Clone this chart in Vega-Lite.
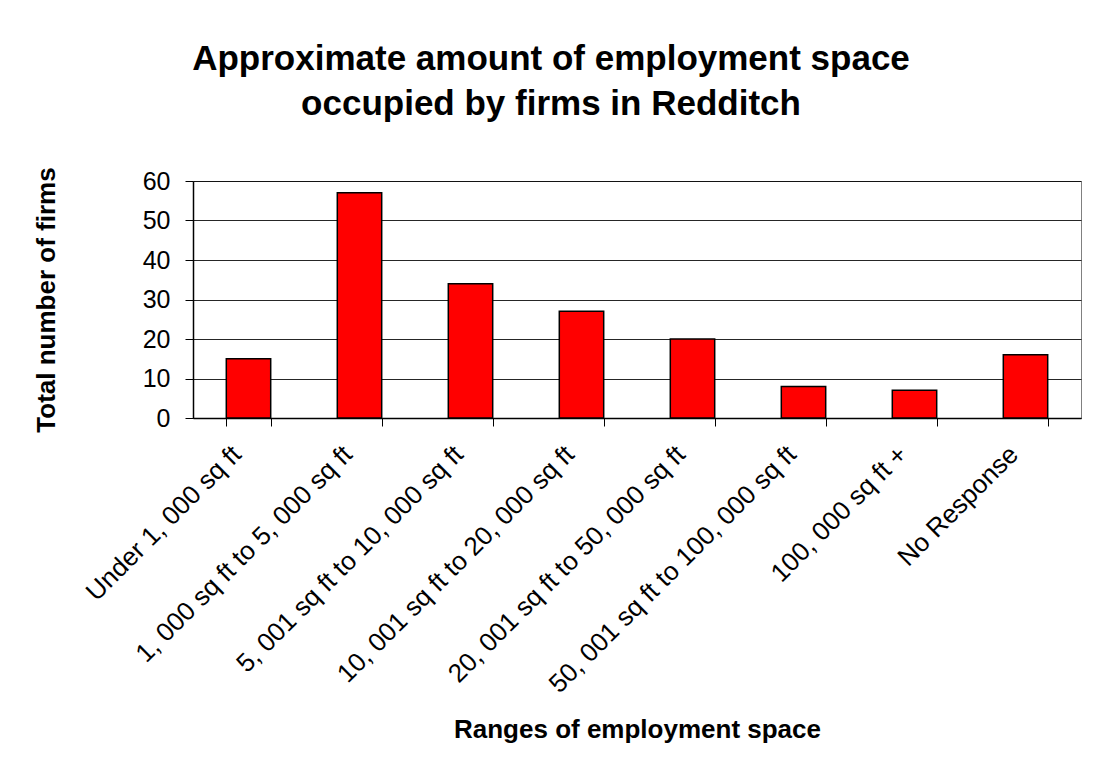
{
  "$schema": "https://vega.github.io/schema/vega-lite/v6.json",
  "width": 888,
  "height": 237,
  "autosize": {"type": "none"},
  "padding": {"left": 193, "top": 181, "right": 17, "bottom": 349},
  "background": "white",
  "title": {
    "text": ["Approximate amount of employment space", "occupied by firms in Redditch"],
    "font": "Liberation Sans",
    "fontSize": 35,
    "fontWeight": "bold",
    "color": "black",
    "anchor": "middle",
    "frame": "group",
    "dx": -86,
    "lineHeight": 45,
    "offset": 45
  },
  "data": {
    "values": [
      {"range": "Under 1, 000 sq ft", "firms": 15},
      {"range": "1, 000 sq ft to 5, 000 sq ft", "firms": 57},
      {"range": "5, 001 sq ft to 10, 000 sq ft", "firms": 34},
      {"range": "10, 001 sq ft to 20, 000 sq ft", "firms": 27},
      {"range": "20, 001 sq ft to 50, 000 sq ft", "firms": 20},
      {"range": "50, 001 sq ft to 100, 000 sq ft", "firms": 8},
      {"range": "100, 000 sq ft +", "firms": 7},
      {"range": "No Response", "firms": 16}
    ]
  },
  "mark": {"type": "bar", "color": "#FF0000", "stroke": "black", "strokeWidth": 1.5},
  "encoding": {
    "x": {
      "field": "range",
      "type": "nominal",
      "sort": null,
      "scale": {"paddingInner": 0.6, "paddingOuter": 0.3},
      "axis": {
        "title": "Ranges of employment space",
        "labelAngle": -45,
        "labelAlign": "right",
        "labelBaseline": "middle",
        "labelFontSize": 26,
        "labelPadding": 24,
        "labelOffset": -12,
        "labelLimit": 0,
        "tickBand": "extent",
        "titleY": 319,
        "titleBaseline": "alphabetic"
      }
    },
    "y": {
      "field": "firms",
      "type": "quantitative",
      "scale": {"domain": [0, 60], "nice": false},
      "axis": {
        "title": "Total number of firms",
        "values": [0, 10, 20, 30, 40, 50, 60],
        "labelFontSize": 25,
        "labelPadding": 15,
        "titlePadding": 83,
        "grid": true
      }
    }
  },
  "config": {
    "font": "Liberation Sans",
    "view": {"stroke": "#808080", "strokeWidth": 1},
    "axis": {
      "domainColor": "black",
      "domainWidth": 1.5,
      "tickColor": "black",
      "tickWidth": 1,
      "tickSize": 8,
      "labelColor": "black",
      "labelFont": "Liberation Sans",
      "titleFont": "Liberation Sans",
      "titleFontSize": 26,
      "titleFontWeight": "bold",
      "titleColor": "black",
      "gridColor": "black",
      "gridWidth": 1,
      "gridOpacity": 0.85
    },
    "axisX": {"grid": false}
  }
}
